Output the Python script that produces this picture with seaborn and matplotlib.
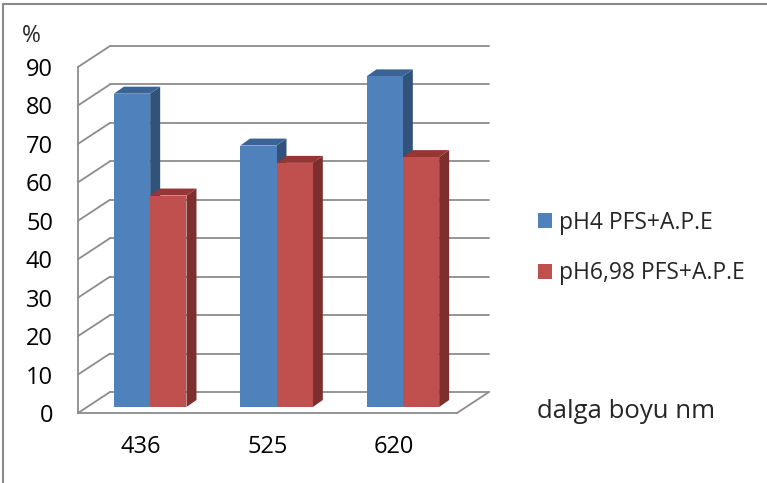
import numpy as np
import pandas as pd
import matplotlib
matplotlib.use("Agg")
import matplotlib.pyplot as plt
import seaborn as sns
from matplotlib.patches import Polygon, Patch
from matplotlib.lines import Line2D
from matplotlib.transforms import IdentityTransform, ScaledTranslation

# ---- data -------------------------------------------------------------
wavelengths = ["436", "525", "620"]
series_names = ["pH4 PFS+A.P.E", "pH6,98 PFS+A.P.E"]
ph4_values = [81.5, 68.0, 86.0]
ph698_values = [55.0, 63.5, 65.0]
y_ticks = list(range(0, 91, 10))

df = pd.DataFrame({
    "wavelength": wavelengths * 2,
    "series": [series_names[0]] * 3 + [series_names[1]] * 3,
    "value": ph4_values + ph698_values,
})

# ---- styling ----------------------------------------------------------
front_colors = {series_names[0]: "#4F81BD", series_names[1]: "#C0504D"}
side_colors = {"#4F81BD": "#30527B", "#C0504D": "#7C2F2D"}
top_colors = {"#4F81BD": "#3A6496", "#C0504D": "#943634"}
grid_color = "#8C8C8C"

sns.set_style("white")
plt.rcParams["font.family"] = ["Open Sans", "DejaVu Sans"]

DPI = 100
fig = plt.figure(figsize=(7.67, 4.83), dpi=DPI)
W, H = 767, 483
ax = fig.add_axes([78 / W, 1 - 413 / H, 379 / W, 346 / H])

sns.barplot(data=df, x="wavelength", y="value", hue="series",
            order=wavelengths, hue_order=series_names,
            palette=front_colors, width=0.575, gap=0, saturation=1,
            errorbar=None, legend=False, linewidth=0, ax=ax)

ax.set_xlim(-0.5, 2.5)
ax.set_ylim(0, 90)
ax.set_xlabel("")
ax.set_ylabel("")
ax.patch.set_visible(False)

# pseudo-3D geometry (display pixels)
wall_depth = np.array([32.0, 21.0])   # back wall offset
bar_shift = np.array([9.0, 6.0])      # bar row sits part way into the floor
bar_depth = np.array([10.0, 7.0])     # thickness of each bar
ident = IdentityTransform()

def to_px(x, y):
    return ax.transData.transform((x, y))

# back wall gridlines and the diagonal links to the value axis
for v in y_ticks:
    a = to_px(-0.5, v)
    b = to_px(2.5, v)
    ax.add_artist(Line2D([a[0], a[0] + wall_depth[0]], [a[1], a[1] + wall_depth[1]],
                         color=grid_color, lw=1.3, transform=ident, clip_on=False, zorder=0.5))
    ax.add_artist(Line2D([a[0] + wall_depth[0], b[0] + wall_depth[0]],
                         [a[1] + wall_depth[1], b[1] + wall_depth[1]],
                         color=grid_color, lw=1.3, transform=ident, clip_on=False, zorder=0.5))
# right edge of the floor
fr = to_px(2.5, 0)
ax.add_artist(Line2D([fr[0], fr[0] + wall_depth[0]], [fr[1], fr[1] + wall_depth[1]],
                     color=grid_color, lw=1.3, transform=ident, clip_on=False, zorder=0.5))

# give every bar a side and a top face
bars = sorted([p for p in ax.patches], key=lambda p: p.get_x())
offset = ScaledTranslation(bar_shift[0] / DPI, bar_shift[1] / DPI, fig.dpi_scale_trans)
for i, bar in enumerate(bars):
    x0, w, h = bar.get_x(), bar.get_width(), bar.get_height()
    face = matplotlib.colors.to_hex(bar.get_facecolor()).upper()
    p00 = to_px(x0, 0) + bar_shift
    p11 = to_px(x0 + w, h) + bar_shift
    xl, yb = p00
    xr, yt = p11
    dx, dy = bar_depth
    z = 2 + i * 0.1
    side = Polygon([(xr, yb), (xr, yt), (xr + dx, yt + dy), (xr + dx, yb + dy)],
                   closed=True, facecolor=side_colors[face], edgecolor="none",
                   transform=ident, clip_on=False, zorder=z)
    top = Polygon([(xl, yt), (xr, yt), (xr + dx, yt + dy), (xl + dx, yt + dy)],
                  closed=True, facecolor=top_colors[face], edgecolor="none",
                  transform=ident, clip_on=False, zorder=z)
    ax.add_artist(side)
    ax.add_artist(top)
    bar.set_transform(ax.transData + offset)
    bar.set_clip_on(False)
    bar.set_zorder(z + 0.05)

# axes lines and ticks
for s in ["top", "right"]:
    ax.spines[s].set_visible(False)
for s in ["left", "bottom"]:
    ax.spines[s].set_color(grid_color)
    ax.spines[s].set_linewidth(1.3)

ax.set_yticks(y_ticks)
ax.set_yticklabels([str(v) for v in y_ticks])
ax.set_xticks([-0.5, 0.5, 1.5, 2.5])
ax.set_xticklabels([""] * 4)
ax.set_xticks([0, 1, 2], minor=True)
ax.set_xticklabels(wavelengths, minor=True)
ax.tick_params(axis="both", which="major", direction="out", length=6,
               width=1.3, color=grid_color, labelsize=17, labelcolor="black")
ax.tick_params(axis="y", pad=12)
ax.tick_params(axis="x", which="minor", length=0, pad=16, labelsize=17, labelcolor="black")
ax.grid(False)

# axis titles
fig.text(22 / W, 1 - 36 / H, "%", fontsize=16.5, ha="left", va="center")
fig.text(537 / W, 1 - 412 / H, "dalga boyu nm", fontsize=18.5, ha="left", va="center")

# legend
handles = [Patch(facecolor=front_colors[n], edgecolor="none") for n in series_names]
fig.legend(handles, series_names, loc="center left",
           bbox_to_anchor=(538 / W, 1 - 248 / H), frameon=False,
           fontsize=16.5, handlelength=0.62, handleheight=0.62, handletextpad=0.3,
           labelspacing=1.15, borderpad=0, borderaxespad=0)

# outer chart border (left and top edges)
fig.add_artist(Line2D([3 / W, 3 / W], [-0.1, 1 - 4 / H], color="#8A8A8A", lw=1.5,
                      transform=fig.transFigure))
fig.add_artist(Line2D([3 / W, 1.1], [1 - 4 / H, 1 - 4 / H], color="#8A8A8A", lw=1.5,
                      transform=fig.transFigure))

fig.savefig("out.png", dpi=DPI)
